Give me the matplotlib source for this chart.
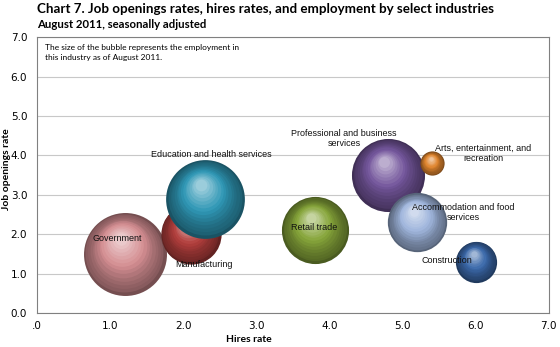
import matplotlib.pyplot as plt
import matplotlib.transforms as mtransforms
import numpy as np
from matplotlib.colors import to_rgb

# Data, August 2011 (seasonally adjusted)
industries = [
    "Government",
    "Manufacturing",
    "Education and health services",
    "Retail trade",
    "Professional and business\nservices",
    "Arts, entertainment, and\nrecreation",
    "Accommodation and food\nservices",
    "Construction",
]
hires_rate = [1.2, 2.1, 2.3, 3.8, 4.8, 5.4, 5.2, 6.0]
openings_rate = [1.5, 2.0, 2.9, 2.1, 3.5, 3.8, 2.3, 1.3]
employment = [22300, 11750, 20100, 14600, 17300, 1900, 11400, 5500]  # thousands

colors = ["#d48e92", "#b23e3c", "#2f97b5", "#86a53a",
          "#74569c", "#e0852e", "#9fb5dc", "#3b69aa"]

# label positions (data coords)
label_x = [1.10, 2.29, 2.38, 3.79, 4.20, 6.10, 5.83, 5.60]
label_y = [1.88, 1.22, 4.03, 2.18, 4.42, 4.06, 2.56, 1.32]

fig = plt.figure(figsize=(5.6, 3.47), dpi=100)
ax = fig.add_axes([0.066, 0.098, 0.914, 0.795])

size_scale = 0.16


def shade(c, amount):
    c = np.array(to_rgb(c))
    if amount >= 0:
        return tuple(c + (1 - c) * amount)
    return tuple(c * (1 + amount))


# draw bubbles as shaded spheres, in series order
n_layers = 14
for i in range(len(industries)):
    s0 = employment[i] * size_scale
    d0 = np.sqrt(s0)  # diameter in points
    ax.scatter(hires_rate[i], openings_rate[i], s=s0,
               color=shade(colors[i], -0.45), zorder=3 + i * 0.01,
               linewidths=0)
    for k in range(1, n_layers + 1):
        f = k / n_layers
        d = d0 * (1 - 0.85 * f)
        dx = -0.05 * d0 * f / 72.0
        dy = 0.18 * d0 * f / 72.0
        trans = ax.transData + mtransforms.ScaledTranslation(
            dx, dy, fig.dpi_scale_trans)
        ax.scatter(hires_rate[i], openings_rate[i], s=d ** 2,
                   color=shade(colors[i], -0.38 + 0.9 * f ** 1.4),
                   zorder=3 + i * 0.01, linewidths=0, transform=trans)

for i, name in enumerate(industries):
    ax.text(label_x[i], label_y[i], name, ha="center", va="center",
            fontsize=6.5, family="Liberation Sans", color="#111111",
            zorder=5, linespacing=1.15)

ax.set_xlim(0, 7)
ax.set_ylim(0, 7)
ax.set_xticks(np.arange(0, 8))
ax.set_xticklabels([".0", "1.0", "2.0", "3.0", "4.0", "5.0", "6.0", "7.0"])
ax.set_yticks(np.arange(0, 8))
ax.set_yticklabels(["%.1f" % v for v in range(8)])
ax.tick_params(length=0, labelsize=7.5)
ax.tick_params(axis="x", pad=6)
ax.tick_params(axis="y", pad=7)
ax.yaxis.grid(True, color="#c8c8c8", linewidth=0.8)
ax.set_axisbelow(True)
for sp in ax.spines.values():
    sp.set_color("#808080")
    sp.set_linewidth(0.8)

ax.set_xlabel("Hires rate", fontsize=7.5, fontweight="bold", family="Lato")
ax.xaxis.set_label_coords(0.415, -0.08)
ax.set_ylabel("Job openings rate", fontsize=7.5, fontweight="bold",
              family="Lato", va="center")
ax.yaxis.set_label_coords(-0.06, 0.52)

ax.text(0.015, 0.975,
        "The size of the bubble represents the employment in\n"
        "this industry as of August 2011.",
        transform=ax.transAxes, ha="left", va="top", fontsize=6.0,
        family="Lato", linespacing=1.5)

fig.text(0.066, 0.99,
         "Chart 7. Job openings rates, hires rates, and employment by select industries",
         ha="left", va="top", fontsize=9.6, fontweight="bold", family="Lato")
fig.text(0.066, 0.945, "August 2011, seasonally adjusted",
         ha="left", va="top", fontsize=8.2, fontweight="bold", family="Lato")

fig.savefig("out.png", dpi=100)
